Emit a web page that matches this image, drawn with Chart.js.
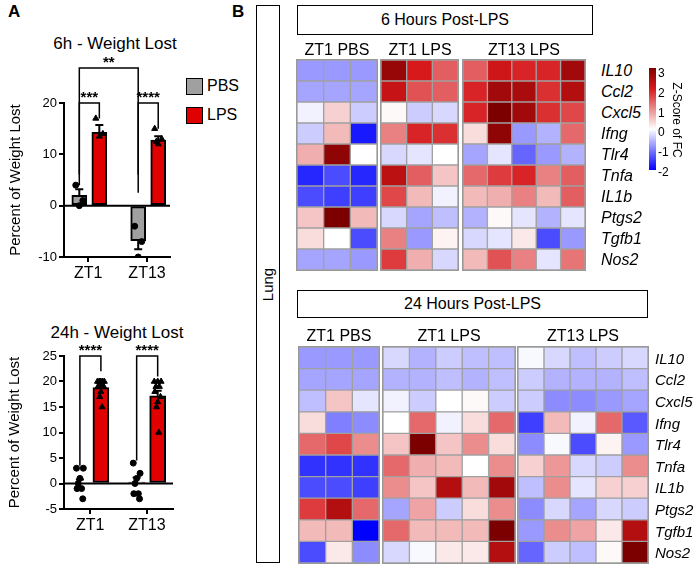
<!DOCTYPE html>
<html><head><meta charset="utf-8">
<script src="https://cdn.jsdelivr.net/npm/chart.js@4/dist/chart.umd.min.js"></script>
<style>
body{margin:0;width:700px;height:565px;position:relative;background:#fff;font-family:"Liberation Sans",Arial,sans-serif;overflow:hidden}
.a{position:absolute;white-space:nowrap}
canvas{position:absolute}
.c{transform:translate(-50%,-50%)}
.box{position:absolute;border:1.5px solid #000;box-sizing:border-box;display:flex;align-items:center;justify-content:center;font-size:16px}
.gene{position:absolute;font-style:italic;transform:translateY(-50%)}
</style></head><body>
<div class="a" style="left:8px;top:2px;font-size:17px;font-weight:bold">A</div>
<div class="a" style="left:232px;top:2px;font-size:17px;font-weight:bold">B</div>
<div class="a c" style="left:115px;top:44px;font-size:17px">6h - Weight Lost</div>
<div class="a c" style="left:117px;top:333px;font-size:17px">24h - Weight Lost</div>
<div class="a" style="left:186px;top:78px;width:15px;height:15px;background:#a0a0a0;border:1.5px solid #000"></div>
<div class="a" style="left:207px;top:77px;font-size:16px">PBS</div>
<div class="a" style="left:186px;top:107px;width:15px;height:15px;background:#e00000;border:1.5px solid #000"></div>
<div class="a" style="left:207px;top:106px;font-size:16px">LPS</div>
<canvas id="a6" width="168" height="240" style="left:7px;top:50px"></canvas>
<canvas id="a24" width="172" height="212" style="left:6px;top:330px"></canvas>
<div class="box" style="left:256px;top:5px;width:24px;height:558px"><span style="transform:rotate(-90deg);font-size:15px">Lung</span></div>
<div class="box" style="left:297px;top:5px;width:296px;height:30px">6 Hours Post-LPS</div>
<div class="box" style="left:297px;top:290px;width:351px;height:28px">24 Hours Post-LPS</div>
<div id="extra"></div>
<script>
// ---------- Panel A data ----------
const groups = ['ZT1','ZT13'];
const w6_pbs_mean = [2.0, -6.8];
const w6_pbs_sem = [1.2, 1.7];
const w6_lps_mean = [14.3, 12.8];
const w6_lps_sem = [1.4, 0.7];
const w6_pbs_pts = [[4,1,0],[-4,-7,-10]];
const w6_lps_pts = [[17,14,13.5],[15,13,12,12.5]];
const w24_pbs_mean = [0.0, 0.3];
const w24_pbs_sem = [0.8, 0.9];
const w24_lps_mean = [18.8, 17.2];
const w24_lps_sem = [0.5, 1.0];
const w24_pbs_pts = [[3,3,1,0,-1,-1,-3],[4,2,1,0,-2,-2,-3]];
const w24_lps_pts = [[20,20,20,20,20,19,19,18,17,15],[20,20,20,19,19,18,17,16,15,10]];
const stars6 = ['***','****','**'];
const stars24 = ['****','****'];

// ---------- Panel B data (z-scores) ----------
const genes = ['IL10','Ccl2','Cxcl5','Ifng','Tlr4','Tnfa','IL1b','Ptgs2','Tgfb1','Nos2'];
const h6_zt1pbs = [[-0.8,-0.8,-0.8],[-0.7,-0.7,-0.7],[-0.1,0.4,-0.4],[-0.4,0.6,-1.8],[0.7,2.8,0],[-1.7,-1.4,-1.7],[-1.4,-1.5,-1.5],[0.5,3,0.6],[0.3,0,-1.4],[-0.7,-0.7,-0.8]];
const h6_zt1lps = [[2.7,2.0,1.4],[2.2,1.5,1.4],[0.05,-0.4,-0.3],[1.1,1.9,1.8],[-0.3,-0.2,0],[2.3,1.4,0.5],[1.6,0.6,-0.1],[-0.3,-0.7,-0.5],[1.1,-0.8,0.1],[1.7,0.7,-0.3]];
const h6_zt13lps = [[1.4,2.1,1.9,1.9,2.6],[1.9,2.6,2.5,1.8,2.4],[1.9,3,2.6,1.8,1.6],[0.3,2.8,-0.8,-0.6,1.3],[-0.7,-0.2,-1.2,-0.8,-0.6],[1.3,1.7,1.9,1.1,1.4],[0.6,0.7,1.1,0.6,1.4],[-0.6,0.05,-0.2,-0.6,-0.2],[-0.3,-0.2,0.2,-1.4,-0.8],[0.6,1.5,1.1,-0.2,1.2]];
const h24_zt1pbs = [[-0.8,-0.8,-0.8],[-0.7,-0.7,-0.7],[-0.5,0.5,-0.2],[0.3,-1.0,-0.9],[1.3,1.6,1.0],[-1.6,-1.6,-1.6],[-1.4,-1.4,-1.5],[1.7,2.4,1.3],[0.6,0.6,-2],[-1.4,0.2,-0.9]];
const h24_zt1lps = [[-0.3,-0.6,-0.4,-0.5,-0.5],[-0.6,-0.6,-0.5,-0.6,-0.5],[-0.1,-0.4,0,0.05,-0.4],[0,1.3,-0.1,0.3,1.3],[0.5,3,0.5,1.0,0.3],[1.3,0.7,0.6,0,1.0],[1.0,0.5,2.4,0.6,2.6],[-0.7,0.8,-0.4,0.3,1.0],[1.3,0.6,0.6,0.6,3],[-0.3,-0.05,0.2,0.2,2.4]];
const h24_zt13lps = [[-0.05,-0.3,-0.5,-0.4,-0.3],[-0.4,-0.6,-0.6,-0.6,-0.5],[-0.4,-0.9,-0.9,-0.8,-0.7],[-1.5,0.6,-0.1,1.3,-1.3],[-0.9,-0.05,-1.4,0.1,-0.8],[0.4,0.9,-0.3,-0.4,1.0],[-0.5,1.0,-0.2,0.4,0.4],[-0.9,-0.3,-0.7,-0.3,-0.4],[-0.8,1.0,0.8,0.2,2.4],[-1.2,-0.4,-0.5,0.05,3]];
const cbTicks = [3,2,1,0,-1,-2];

Chart.defaults.font.family = '"Liberation Sans", Arial, sans-serif';
Chart.defaults.color = '#000';

function weightChart(id, o){
  const ds = [];
  const jit = [-0.06,0.06,0,-0.03,0.03,-0.05,0.05,0,-0.02,0.02];
  ds.push({type:'bar', grouped:false, data:[{x:1+o.offP,y:o.pm[0]},{x:2+o.offP,y:o.pm[1]}], backgroundColor:'#a0a0a0', borderColor:'#000', borderWidth:2, barThickness:o.bw, borderSkipped:false, order:2});
  ds.push({type:'bar', grouped:false, data:[{x:1+o.offL,y:o.lm[0]},{x:2+o.offL,y:o.lm[1]}], backgroundColor:'#e00000', borderColor:'#000', borderWidth:2, barThickness:o.bw, borderSkipped:false, order:2});
  const pp=[], lp=[];
  o.pp.forEach((a,g)=>a.forEach((v,i)=>pp.push({x:g+1+o.offP+jit[i%jit.length],y:v})));
  o.lp.forEach((a,g)=>a.forEach((v,i)=>lp.push({x:g+1+o.offL+jit[i%jit.length],y:v})));
  ds.push({type:'scatter', data:pp, pointStyle:'circle', radius:3, backgroundColor:'#000', borderColor:'#000', order:1});
  ds.push({type:'scatter', data:lp, pointStyle:'triangle', radius:3.5, backgroundColor:'#000', borderColor:'#000', order:1});
  const deco = {id:'deco', afterDatasetsDraw(c){
    const x=c.scales.x, y=c.scales.y, ctx=c.ctx;
    ctx.save(); ctx.strokeStyle='#000'; ctx.lineWidth=2;
    ctx.beginPath(); ctx.moveTo(x.left,y.getPixelForValue(0)); ctx.lineTo(x.right,y.getPixelForValue(0)); ctx.stroke();
    const eb=(cx,m,s)=>{const px=x.getPixelForValue(cx), sgn=m>=0?1:-1;
      const a=y.getPixelForValue(m), b=y.getPixelForValue(m+sgn*s);
      ctx.beginPath(); ctx.moveTo(px,a); ctx.lineTo(px,b); ctx.moveTo(px-4,b); ctx.lineTo(px+4,b); ctx.stroke();};
    for(let g=0;g<2;g++){eb(g+1+o.offP,o.pm[g],o.ps[g]); eb(g+1+o.offL,o.lm[g],o.ls[g]);}
    ctx.lineWidth=1.5; ctx.font='bold 15px "Liberation Sans", Arial'; ctx.textAlign='center'; ctx.fillStyle='#000';
    o.br.forEach(b=>{
      const x1=x.getPixelForValue(b[0]), x2=x.getPixelForValue(b[1]);
      const yt=y.getPixelForValue(b[2])+b[6];
      ctx.beginPath(); ctx.moveTo(x1,y.getPixelForValue(b[3])); ctx.lineTo(x1,yt); ctx.lineTo(x2,yt); ctx.lineTo(x2,y.getPixelForValue(b[4])); ctx.stroke();
      ctx.fillText(b[5],(x1+x2)/2,yt-1);
    });
    ctx.restore();
  }};
  new Chart(document.getElementById(id),{
    data:{datasets:ds},
    options:{responsive:false, animation:false, layout:{padding:{top:o.padTop,right:3,left:0,bottom:0}},
      plugins:{legend:{display:false},tooltip:{enabled:false}},
      scales:{
        x:{type:'linear',min:o.xmin,max:o.xmax,offset:false,bounds:'data',afterFit(s){s.height=33;},
          afterBuildTicks(s){s.ticks=[{value:1},{value:2}];},
          ticks:{callback:v=>groups[v-1],font:{size:16},padding:2},
          grid:{offset:false,drawOnChartArea:false,drawTicks:true,tickLength:5,color:'#000',lineWidth:2},
          border:{color:'#000',width:2}},
        y:{min:o.ymin,max:o.ymax,afterFit(s){s.width=o.yw;},
          ticks:{stepSize:o.step,font:{size:13},padding:2},
          title:{display:true,text:'Percent of Weight Lost',font:{size:15},padding:0},
          grid:{drawOnChartArea:false,drawTicks:true,tickLength:5,color:'#000',lineWidth:2},
          border:{color:'#000',width:2}}
      }},
    plugins:[deco]
  });
}
weightChart('a6',{pm:w6_pbs_mean,ps:w6_pbs_sem,lm:w6_lps_mean,ls:w6_lps_sem,pp:w6_pbs_pts,lp:w6_lps_pts,
  offP:-0.15,offL:0.19,bw:15,xmin:0.59,xmax:2.39,ymin:-10,ymax:20,step:10,padTop:53,yw:57,
  br:[[0.85,1.19,20,4,17,stars6[0],0],[1.85,2.19,20,2.5,15,stars6[1],0],[0.85,1.85,20,6,6,stars6[2],-35]]});
weightChart('a24',{pm:w24_pbs_mean,ps:w24_pbs_sem,lm:w24_lps_mean,ls:w24_lps_sem,pp:w24_pbs_pts,lp:w24_lps_pts,
  offP:-0.18,offL:0.19,bw:16,xmin:0.54,xmax:2.46,ymin:-5,ymax:25,step:5,padTop:26,yw:58,
  br:[[0.82,1.19,25,3.5,22,stars24[0],0],[1.82,2.19,25,4.5,21,stars24[1],0]]});

// ---------- heatmaps ----------
function zcol(z){
  let r,g,b;
  if(z>=0){ if(z<=2){const t=z/2; r=255+(215-255)*t; g=255+(25-255)*t; b=255+(28-255)*t;}
    else {const t=Math.min(1,z-2); r=215+(125-215)*t; g=25*(1-t); b=28*(1-t);} }
  else { const t=Math.min(1,-z/2); r=255*(1-t); g=255*(1-t); b=255; }
  return `rgb(${r|0},${g|0},${b|0})`;
}
const extra=document.getElementById('extra');
function heat(mat,left,top,w,h){
  const cv=document.createElement('canvas'); cv.width=w; cv.height=h;
  cv.style.left=left+'px'; cv.style.top=top+'px'; cv.style.outline='1px solid #999';
  extra.appendChild(cv);
  const ds=[];
  for(let r=mat.length-1;r>=0;r--){
    ds.push({data:mat[r].map(()=>1), backgroundColor:mat[r].map(zcol), borderColor:'#a0a0a0', borderWidth:1, borderSkipped:false, barPercentage:1, categoryPercentage:1});
  }
  new Chart(cv,{type:'bar',data:{labels:mat[0].map((_,i)=>i),datasets:ds},
    options:{responsive:false,animation:false,layout:{padding:0},plugins:{legend:{display:false},tooltip:{enabled:false}},
      scales:{x:{display:false,stacked:true},y:{display:false,stacked:true,min:0,max:mat.length}}}});
}
heat(h6_zt1pbs,297,60,80,210);
heat(h6_zt1lps,381,60,77,210);
heat(h6_zt13lps,463,60,122,210);
heat(h24_zt1pbs,299,347,80,216);
heat(h24_zt1lps,383,347,132,216);
heat(h24_zt13lps,518,347,130,216);

function txt(s,x,y,css,cls){const d=document.createElement('div'); d.className=cls||'a c'; d.textContent=s; d.style.cssText+=`left:${x}px;top:${y}px;`+css; extra.appendChild(d);}
txt('ZT1 PBS',337,50,'font-size:16px'); txt('ZT1 LPS',420,50,'font-size:16px'); txt('ZT13 LPS',524,50,'font-size:16px');
txt('ZT1 PBS',339,336,'font-size:16px'); txt('ZT1 LPS',449,336,'font-size:16px'); txt('ZT13 LPS',583,336,'font-size:16px');
genes.forEach((g,i)=>{ txt(g,601,60+21*(i+0.5),'font-size:16px','gene'); txt(g,655,347+21.6*(i+0.5),'font-size:15px','gene'); });
const stops=cbTicks.map((z,i)=>`${zcol(z)} ${i*20}%`).join(',');
const cb=document.createElement('div'); cb.className='a'; cb.style.cssText=`left:649px;top:68px;width:7px;height:102px;background:linear-gradient(to bottom,${stops})`; extra.appendChild(cb);
cbTicks.forEach((z,i)=>txt(String(z),658,73+i*19.8,'font-size:12px;transform:translateY(-50%)','a'));
txt('Z-Score of FC',677,120,'font-size:12px;transform:translate(-50%,-50%) rotate(90deg)','a');
</script></body></html>
